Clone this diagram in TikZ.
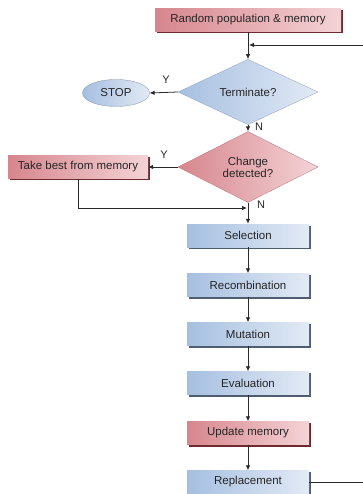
\documentclass[tikz,border=0pt]{standalone}
\usepackage{fontspec}
\setmainfont{Liberation Sans}
\usetikzlibrary{shapes.geometric,arrows.meta,backgrounds,calc}
\definecolor{redA}{HTML}{D6868D}
\definecolor{redB}{HTML}{F4D3D6}
\definecolor{redS}{HTML}{6E2A2E}
\definecolor{bluA}{HTML}{A6BFE0}
\definecolor{bluB}{HTML}{E2EAF5}
\definecolor{bluS}{HTML}{4E5D72}
\definecolor{lineC}{HTML}{2A2A2A}
\begin{document}
\begin{tikzpicture}[x=1pt,y=-1pt,
  font=\fontsize{11.5}{13}\selectfont, text=black!85,
  basebox/.style={rectangle, inner sep=0pt, minimum height=23pt, draw=none},
  bluebox/.style={basebox, minimum width=122pt, left color=bluA, right color=bluB},
  redbox/.style={basebox, left color=redA, right color=redB},
  bluedia/.style={diamond, inner sep=0pt, minimum width=140pt, minimum height=50pt,
     left color=bluA, right color=bluB, draw=bluA!85!black, line width=0.3pt, align=center},
  reddia/.style={diamond, inner sep=0pt, minimum width=140pt, minimum height=50pt,
     left color=redA, right color=redB, draw=redA!85!black, line width=0.3pt, align=center},
  stopnode/.style={ellipse, inner sep=0pt, minimum width=67pt, minimum height=27pt,
     left color=bluA, right color=bluB, draw=bluA!75!black, line width=0.3pt},
  conn/.style={draw=lineC, line width=0.8pt, -{Latex[length=5pt,width=4.5pt]}},
  plain/.style={draw=lineC, line width=0.8pt},
  lab/.style={font=\fontsize{11}{13}\selectfont}
]
\useasboundingbox (0,0) rectangle (363,494);
\node[redbox, minimum width=186pt] (rand) at (248,20) {Random population \& memory};
\node[bluedia] (term) at (248,92) {Terminate?};
\node[stopnode] (stop) at (116,93) {STOP};
\node[reddia] (chg) at (248,167) {Change\\[-1pt]detected?};
\node[redbox, minimum width=140pt] (best) at (78,167) {Take best from memory};
\node[bluebox] (sel) at (248,235.5) {Selection};
\node[bluebox] (rec) at (248,285) {Recombination};
\node[bluebox] (mut) at (248,334) {Mutation};
\node[bluebox] (eva) at (248,383) {Evaluation};
\node[redbox, minimum width=122pt] (upd) at (248,433) {Update memory};
\node[bluebox] (rep) at (248,482) {Replacement};

\begin{pgfonlayer}{background}
  \foreach \n in {rand,best,upd}
    \fill[redS] ($(\n.north west)+(1.8,1.8)$) rectangle ($(\n.south east)+(1.8,1.8)$);
  \foreach \n in {sel,rec,mut,eva,rep}
    \fill[bluS] ($(\n.north west)+(1.8,1.8)$) rectangle ($(\n.south east)+(1.8,1.8)$);
\end{pgfonlayer}

\coordinate (join) at (249,45);
\coordinate (edgeT) at (363,45);
\coordinate (edgeR) at (363,482);
\coordinate (bend) at (78,208);
\coordinate (merge) at (247,208);

\draw[conn] (rand.south) -- (term.north);
\draw[conn] (edgeT) -- (join);
\draw[conn] (term.west) -- (stop.east);
\draw[conn] (term.south) -- (chg.north);
\draw[conn] (chg.west) -- (best.east);
\draw[plain] (best.south) -- (bend);
\draw[conn] (bend) -- (merge);
\draw[conn] (chg.south) -- (sel.north);
\draw[conn] (sel.south) -- (rec.north);
\draw[conn] (rec.south) -- (mut.north);
\draw[conn] (mut.south) -- (eva.north);
\draw[conn] (eva.south) -- (upd.north);
\draw[conn] (upd.south) -- (rep.north);
\draw[plain] (rep.east) -- (edgeR);

\node[lab] (y1) at (166,80) {Y};
\node[lab] (n1) at (259,127) {N};
\node[lab] (y2) at (164,155) {Y};
\node[lab] (n2) at (261,205) {N};
\end{tikzpicture}
\end{document}
